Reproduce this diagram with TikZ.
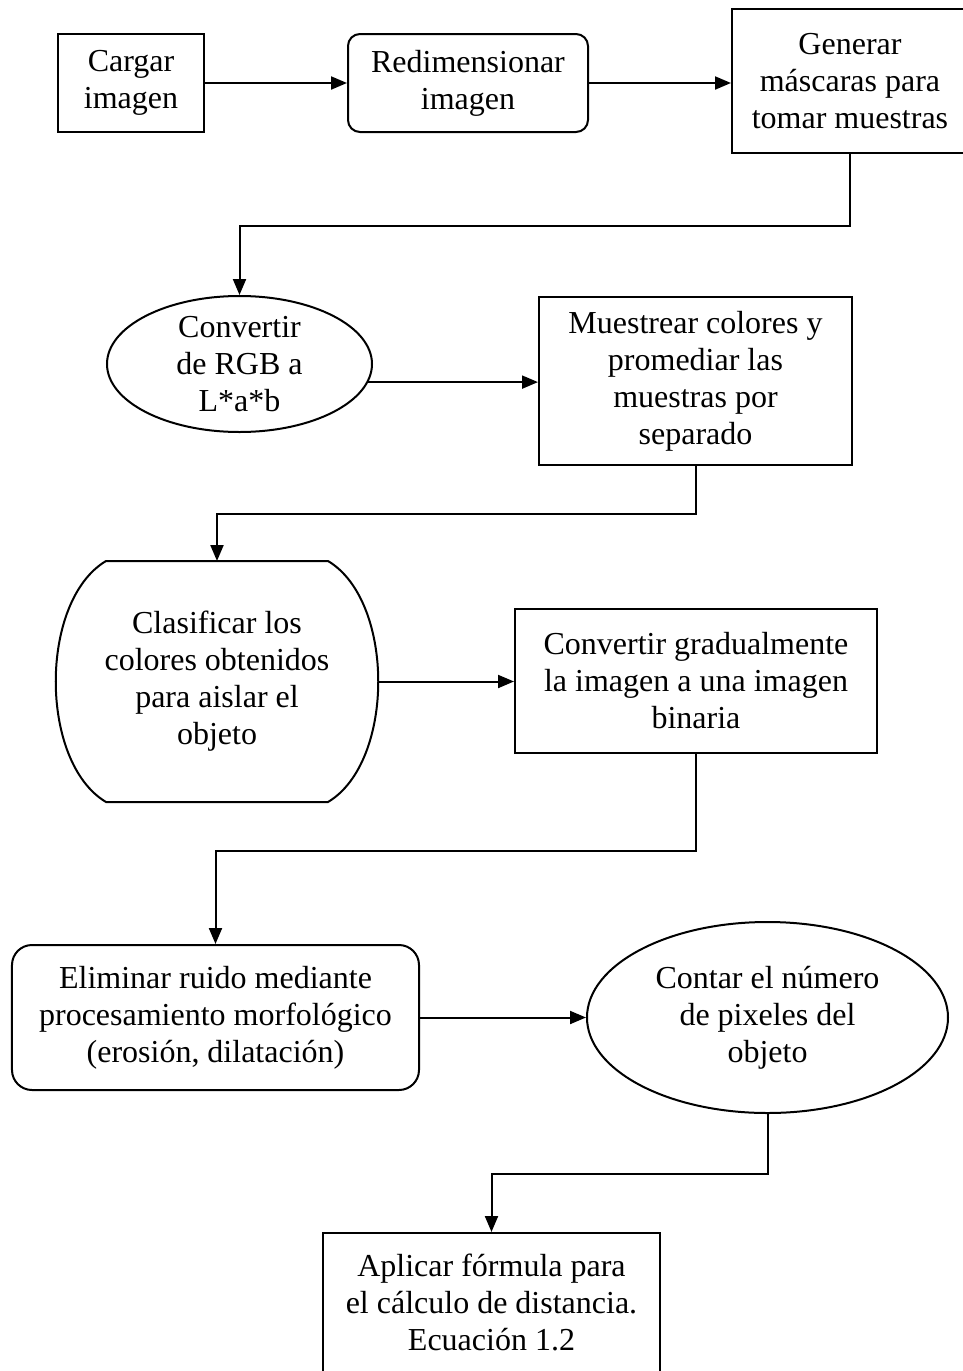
\documentclass[tikz,border=0pt]{standalone}
\usepackage{fontspec}
\setmainfont{Liberation Serif}
\usetikzlibrary{shapes.geometric,arrows.meta}

\begin{document}
\begin{tikzpicture}
    \tikzstyle{block} = [rectangle,draw=black,line width=2pt,align=center,
    font=\fontsize{32pt}{37pt}\selectfont,inner sep=0pt,node distance=300pt];
    \tikzstyle{roundblock} = [block,rounded corners=12pt];
    \tikzstyle{oval} = [block,ellipse];
    \tikzstyle{barrel} = [block,draw=none];
    \tikzstyle{flow} = [line width=2pt,-{Triangle[length=16pt,width=13pt]}];

    \useasboundingbox (-131pt,83pt) rectangle (832pt,-1288pt);

    \node[block,name=cargar,minimum width=146pt,minimum height=98pt] {Cargar\\imagen};
    \node[roundblock,name=redim,right of=cargar,xshift=37pt,minimum
    width=240pt,minimum height=98pt] {Redimensionar\\imagen};
    \node[block,name=generar,right of=redim,xshift=82pt,yshift=2pt,minimum
    width=236pt,minimum height=144pt] {Generar\\máscaras para\\tomar muestras};

    \node[oval,name=convrgb,below of=cargar,xshift=108.5pt,yshift=19pt,inner
    ysep=-5pt,minimum width=265pt,minimum height=136pt] {Convertir\\de RGB a\\L*a*b};
    \node[block,name=muestrear,right of=convrgb,xshift=156pt,yshift=-17pt,minimum
    width=313pt,minimum height=168pt] {Muestrear colores y\\promediar las\\muestras por\\separado};

    \node[barrel,name=clasificar,below of=convrgb,xshift=-22.5pt,yshift=-17.5pt,minimum
    width=320pt,minimum height=239pt] {Clasificar los\\colores obtenidos\\para aislar el\\objeto};
    % outline with bulging sides
    \draw[line width=2pt] ([xshift=50pt]clasificar.north west) -- ([xshift=-50pt]clasificar.north east)
    .. controls +(67pt,-40pt) and +(67pt,40pt) .. ([xshift=-50pt]clasificar.south east)
    -- ([xshift=50pt]clasificar.south west)
    .. controls +(-67pt,40pt) and +(-67pt,-40pt) .. cycle;
    \node[block,name=convgrad,below of=muestrear,xshift=0.5pt,minimum
    width=362pt,minimum height=144pt] {Convertir gradualmente\\la imagen a una imagen\\binaria};

    \node[block,name=eliminar,below of=clasificar,xshift=-1.5pt,yshift=-36pt,rounded
    corners=20pt,minimum width=407pt,minimum height=145pt] {Eliminar ruido mediante\\procesamiento morfológico\\(erosión, dilatación)};
    \node[oval,name=contar,right of=eliminar,xshift=252pt,minimum
    width=361pt,minimum height=191pt] {Contar el número\\de pixeles del\\objeto};

    \node[block,name=aplicar,below of=eliminar,xshift=276pt,yshift=15pt,minimum
    width=337pt,minimum height=139pt] {Aplicar fórmula para\\el cálculo de distancia.\\Ecuación 1.2};

    \draw[flow] (cargar) -- (redim);
    \draw[flow] (redim.east) -- (redim.east -| generar.west);
    \draw[flow] (generar.south) -- ++(0,-72pt) -| (convrgb.north);
    \draw[flow] (convrgb.-8) -- (convrgb.-8 -| muestrear.west);
    \draw[flow] (muestrear.south) -- ++(0,-48pt) -| (clasificar.north);
    \draw[flow] (clasificar.east) -- (clasificar.east -| convgrad.west);
    \draw[flow] (convgrad.south) -- ++(0,-97pt) -| (eliminar.north);
    \draw[flow] (eliminar.east) -- (eliminar.east -| contar.west);
    \draw[flow] (contar.south) -- ++(0,-60pt) -| (aplicar.north);

  \end{tikzpicture}
\end{document}
